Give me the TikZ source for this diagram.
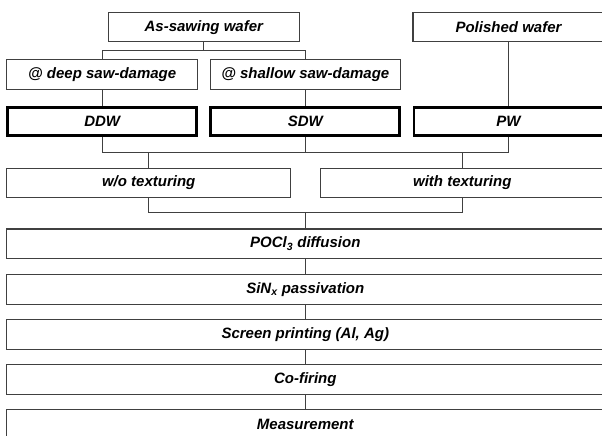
\documentclass[tikz,border=0pt]{standalone}
\usepackage{fontspec}
\setmainfont{Liberation Sans}
\definecolor{lnc}{HTML}{404040}
\begin{document}
\begin{tikzpicture}[x=1pt,y=-1pt,
  box/.style={draw=lnc, line width=1.1pt, minimum height=29.5pt, inner sep=0pt,
    font=\fontsize{15}{18}\selectfont\bfseries\itshape},
  thickbox/.style={box, draw=black, line width=2.8pt, minimum height=28pt},
  conn/.style={draw=lnc, line width=1.1pt}]
\useasboundingbox (0,0) rectangle (602,436);
\clip (0,0) rectangle (602,436);
% row 1
\node[box, minimum width=191pt] (as) at (203.8,27.2) {As-sawing wafer};
\node[box, minimum width=191pt] (pol) at (508.5,27.2) {Polished wafer};
% row 2
\node[box, minimum width=191pt] (deep) at (102.2,74.3) {@ deep saw-damage};
\node[box, minimum width=190.5pt] (shallow) at (305.3,74.3) {@ shallow saw-damage};
% row 3
\node[thickbox, minimum width=189pt] (ddw) at (102.2,121.7) {DDW};
\node[thickbox, minimum width=189pt] (sdw) at (305.3,121.7) {SDW};
\node[thickbox, minimum width=189pt] (pw) at (508.5,121.7) {PW};
% row 4
\node[box, minimum width=284pt] (wo) at (148.7,182.8) {w/o texturing};
\node[box, minimum width=284pt] (wt) at (462.3,182.8) {with texturing};
% process chain
\node[box, minimum width=597.3pt] (poc) at (305.3,243.7) {POCl\textsubscript{3} diffusion};
\node[box, minimum width=597.3pt] (sin) at (305.3,289.3) {SiN\textsubscript{x} passivation};
\node[box, minimum width=597.3pt] (scr) at (305.3,334.3) {Screen printing (Al, Ag)};
\node[box, minimum width=597.3pt] (cof) at (305.3,379.3) {Co-firing};
\node[box, minimum width=597.3pt] (mea) at (305.3,424.3) {Measurement};
% junction levels
\coordinate (ja) at (0,50.7);
\coordinate (jb) at (0,152.3);
\coordinate (jc) at (0,212.7);
% connectors
\draw[conn] (as.south) -- (as.south |- ja);
\draw[conn] (deep.north) -- (deep.north |- ja) -- (shallow.north |- ja) -- (shallow.north);
\draw[conn] (deep.south) -- (ddw.north);
\draw[conn] (shallow.south) -- (sdw.north);
\draw[conn] (pol.south) -- (pw.north);
\draw[conn] (ddw.south) -- (ddw.south |- jb) -- (pw.south |- jb) -- (pw.south);
\draw[conn] (sdw.south) -- (sdw.south |- jb);
\draw[conn] (wo.north |- jb) -- (wo.north);
\draw[conn] (wt.north |- jb) -- (wt.north);
\draw[conn] (wo.south) -- (wo.south |- jc) -- (wt.south |- jc) -- (wt.south);
\draw[conn] (poc.north |- jc) -- (poc.north);
\draw[conn] (poc.south) -- (sin.north);
\draw[conn] (sin.south) -- (scr.north);
\draw[conn] (scr.south) -- (cof.north);
\draw[conn] (cof.south) -- (mea.north);
\end{tikzpicture}
\end{document}
